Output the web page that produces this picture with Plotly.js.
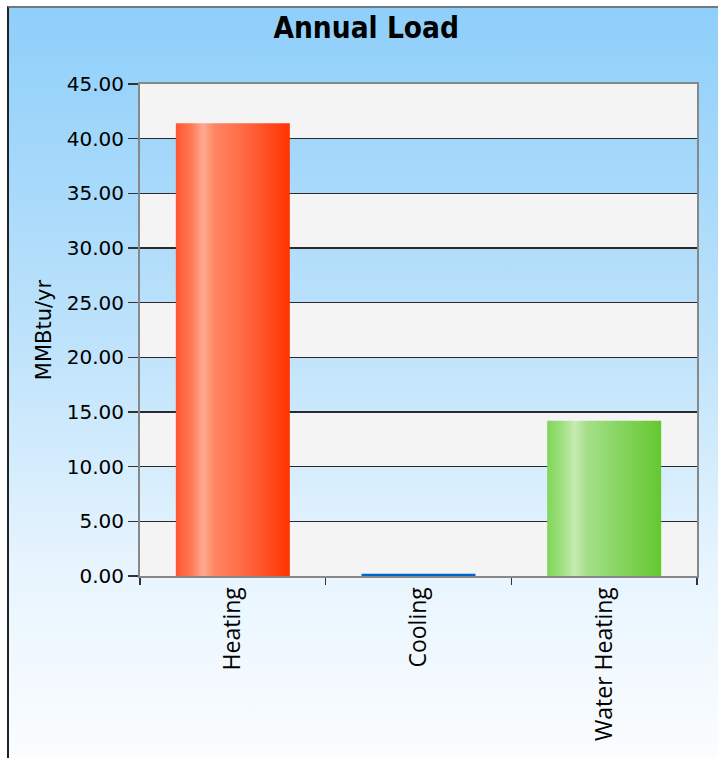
<!DOCTYPE html>
<html>
<head>
<meta charset="utf-8">
<script src="https://cdn.plot.ly/plotly-3.0.1.min.js"></script>
<style>
  html, body { margin: 0; padding: 0; background: #ffffff; width: 718px; height: 758px; overflow: hidden; }
  #bg { position: absolute; left: 7px; top: 6px; width: 711px; height: 752px;
        border-left: 2px solid #222; border-top: 2px solid #707880;
        background: linear-gradient(to bottom, #8ecffa 0%, #bfe3fb 45%, #e8f5fe 75%, #fbfdff 100%); }
  #chart { position: absolute; left: 0; top: 0; width: 718px; height: 758px; }
</style>
</head>
<body>
<div id="bg"></div>
<svg width="0" height="0" style="position:absolute">
  <defs>
    <linearGradient id="gradRed" x1="0" y1="0" x2="1" y2="0">
      <stop offset="0%" stop-color="#ff5530"/>
      <stop offset="14%" stop-color="#ff7a58"/>
      <stop offset="24%" stop-color="#ffaa92"/>
      <stop offset="34%" stop-color="#ff8662"/>
      <stop offset="60%" stop-color="#ff6844"/>
      <stop offset="100%" stop-color="#ff3300"/>
    </linearGradient>
    <linearGradient id="gradGreen" x1="0" y1="0" x2="1" y2="0">
      <stop offset="0%" stop-color="#80d65a"/>
      <stop offset="14%" stop-color="#a2e184"/>
      <stop offset="24%" stop-color="#c6ecb3"/>
      <stop offset="34%" stop-color="#a6e08a"/>
      <stop offset="60%" stop-color="#8ad666"/>
      <stop offset="100%" stop-color="#64c830"/>
    </linearGradient>
  </defs>
</svg>
<div id="chart"></div>
<script>
const categories = ["Heating", "Cooling", "Water Heating"];
const loads = [41.4, 0.2, 14.2];
const barColors = ["#ff5a35", "#0066cc", "#80d65a"];
const barFills = ["url(#gradRed)", null, "url(#gradGreen)"];
const yTicks = [0, 5, 10, 15, 20, 25, 30, 35, 40, 45];

const bands = [];
for (let i = 0; i < yTicks.length - 1; i += 2) {
  bands.push({
    type: "rect", xref: "paper", yref: "y", layer: "below",
    x0: 0, x1: 1, y0: yTicks[i], y1: yTicks[i + 1],
    fillcolor: "#f4f4f4", line: { width: 0 }
  });
}

const data = [{
  type: "bar",
  x: categories,
  y: loads,
  marker: { color: barColors, line: { width: 0 } },
  hoverinfo: "x+y"
}];

const layout = {
  width: 718, height: 758,
  margin: { l: 140, r: 21, t: 84, b: 182, pad: 0 },
  paper_bgcolor: "rgba(0,0,0,0)",
  plot_bgcolor: "rgba(0,0,0,0)",
  bargap: 0.386,
  showlegend: false,
  title: {
    text: "<b>Annual Load</b>",
    font: { family: "DejaVu Sans Condensed, DejaVu Sans", size: 29.5, color: "#000" },
    x: 0.51, xanchor: "center", y: 0.964, yanchor: "middle"
  },
  xaxis: {
    type: "category",
    tickangle: -90,
    tickson: "boundaries",
    ticks: "outside", ticklen: 7, tickwidth: 1.5, tickcolor: "#333",
    showline: true, linecolor: "#888", linewidth: 2, mirror: true,
    showgrid: false,
    layer: "below traces",
    tickfont: { family: "Open Sans", size: 23, color: "#000" },
    automargin: false
  },
  yaxis: {
    range: [0, 45],
    tickvals: yTicks,
    tickformat: ".2f",
    ticks: "outside", ticklen: 10, tickwidth: 1.5, tickcolor: "#333",
    showline: true, linecolor: "#888", linewidth: 2, mirror: true,
    showgrid: true, gridcolor: "#2a2a2a", gridwidth: 1.2,
    zeroline: false,
    layer: "below traces",
    tickfont: { family: "DejaVu Sans", size: 20, color: "#000" },
    title: { text: "MMBtu/yr", font: { family: "DejaVu Sans", size: 21, color: "#000" }, standoff: 9 },
    automargin: false
  },
  shapes: bands
};

Plotly.newPlot("chart", data, layout, { displayModeBar: false, staticPlot: true }).then(function (gd) {
  const paths = gd.querySelectorAll(".trace.bars .point path");
  paths.forEach(function (p, i) {
    if (barFills[i]) p.style.fill = barFills[i];
  });
});
</script>
</body>
</html>
